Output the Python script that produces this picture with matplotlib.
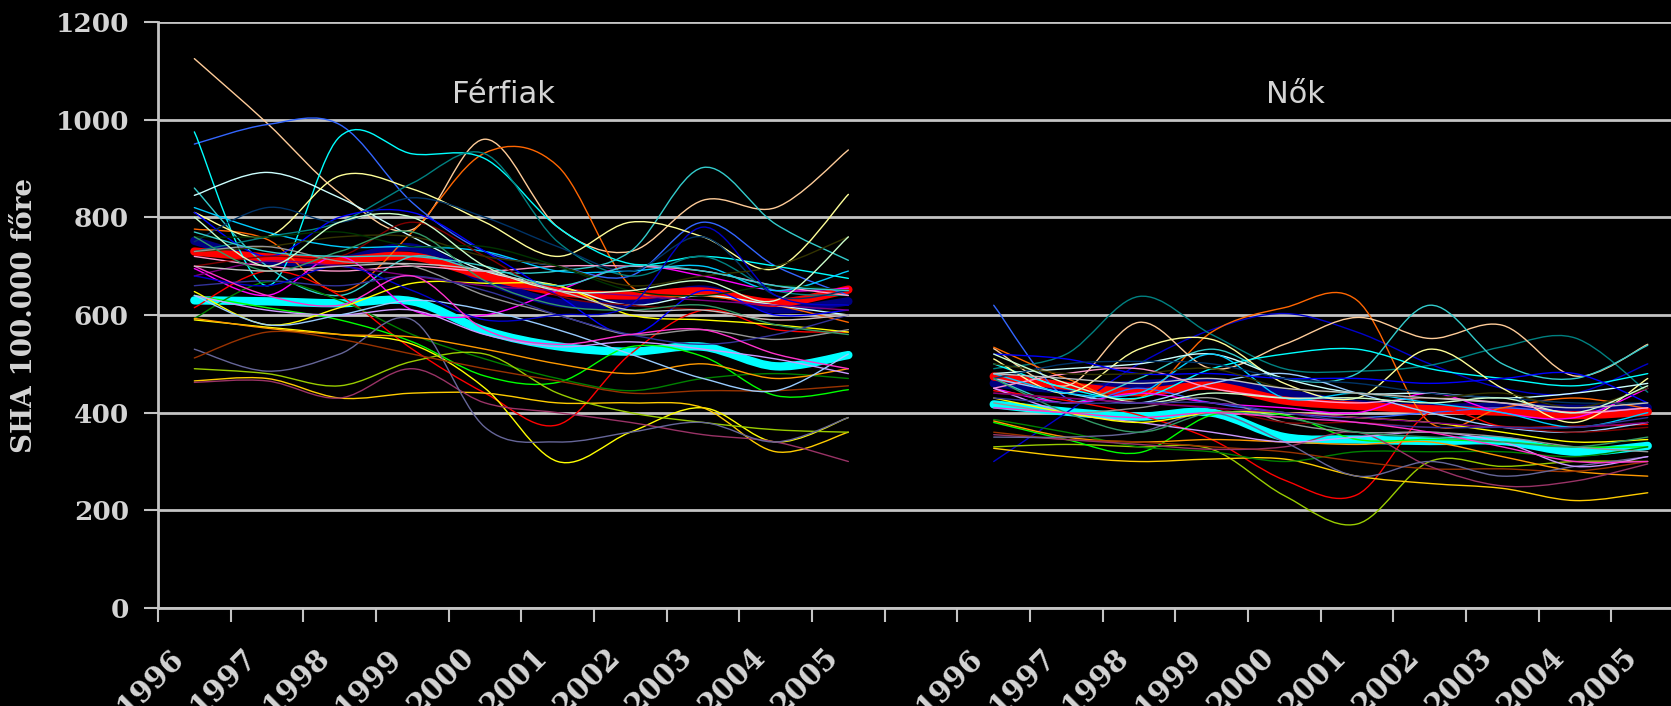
#! /usr/bin/env python
# coding: utf-8
"""Male / female rates per 100 000, 1996-2005, one thin line per county."""

import numpy as np
import matplotlib
matplotlib.use('Agg')
import matplotlib.pyplot as plt
from matplotlib.path import Path
from matplotlib.patches import PathPatch
from matplotlib.transforms import ScaledTranslation

years = ['1996', '1997', '1998', '1999', '2000',
         '2001', '2002', '2003', '2004', '2005']
panel_titles = ['Férfiak', 'Nők']
ylabel = 'SHA 100.000 főre'

# thick summary lines
men_navy = [752, 712, 712, 738, 672, 625, 625, 652, 612, 628]
men_red = [730, 718, 712, 720, 680, 648, 640, 648, 625, 652]
men_cyan = [630, 628, 624, 628, 568, 536, 525, 535, 495, 518]
women_navy = [460, 448, 458, 462, 440, 418, 410, 412, 408, 410]
women_red = [474, 455, 442, 455, 425, 414, 407, 402, 395, 402]
women_cyan = [417, 402, 392, 400, 350, 345, 342, 342, 320, 332]

# thin county lines
men_lines = [
    [1125, 993, 850, 775, 960, 780, 730, 835, 820, 938],
    [776, 755, 648, 770, 932, 905, 660, 640, 620, 585],
    [950, 990, 990, 830, 730, 700, 680, 790, 700, 640],
    [975, 660, 965, 930, 920, 780, 705, 720, 700, 675],
    [860, 700, 640, 720, 690, 690, 730, 902, 786, 712],
    [845, 892, 840, 760, 690, 660, 620, 640, 620, 600],
    [810, 760, 885, 858, 790, 720, 790, 760, 695, 847],
    [730, 760, 790, 870, 930, 750, 680, 720, 650, 640],
    [695, 640, 720, 610, 600, 650, 700, 680, 650, 655],
    [615, 690, 640, 530, 440, 375, 520, 610, 570, 565],
    [640, 615, 590, 545, 475, 462, 535, 515, 435, 447],
    [593, 668, 630, 560, 510, 470, 445, 470, 480, 470],
    [648, 580, 615, 665, 665, 660, 600, 590, 580, 565],
    [590, 575, 560, 540, 450, 300, 360, 410, 340, 390],
    [465, 470, 430, 440, 440, 420, 420, 410, 320, 360],
    [490, 480, 455, 505, 520, 440, 400, 380, 365, 360],
    [462, 465, 430, 490, 420, 400, 380, 355, 340, 300],
    [530, 485, 520, 590, 370, 340, 360, 380, 340, 390],
    [512, 565, 550, 520, 490, 465, 440, 445, 445, 455],
    [593, 573, 560, 555, 530, 500, 480, 500, 470, 490],
    [640, 610, 600, 610, 560, 535, 545, 530, 510, 480],
    [640, 580, 600, 630, 610, 570, 520, 470, 445, 520],
    [720, 700, 690, 700, 690, 700, 700, 690, 660, 640],
    [820, 770, 740, 740, 730, 690, 690, 700, 650, 690],
    [810, 720, 800, 810, 730, 640, 560, 650, 600, 610],
    [750, 820, 790, 840, 800, 740, 690, 760, 640, 650],
    [700, 720, 720, 790, 720, 640, 620, 610, 590, 600],
    [730, 740, 760, 760, 720, 700, 660, 680, 700, 760],
    [760, 760, 770, 740, 740, 700, 650, 640, 660, 650],
    [730, 740, 710, 700, 640, 600, 560, 570, 550, 570],
    [680, 710, 700, 680, 660, 650, 640, 630, 620, 610],
    [660, 670, 660, 680, 650, 600, 560, 540, 560, 600],
    [760, 690, 730, 770, 670, 620, 610, 620, 580, 560],
    [770, 730, 720, 720, 700, 660, 700, 690, 660, 650],
    [800, 700, 790, 800, 700, 650, 650, 670, 630, 760],
    [680, 660, 700, 650, 590, 600, 620, 780, 640, 620],
    [700, 640, 620, 680, 570, 540, 560, 570, 520, 490],
    [700, 690, 700, 705, 690, 650, 610, 610, 590, 600],
]
women_lines = [
    [620, 430, 450, 420, 400, 390, 400, 410, 400, 410],
    [300, 400, 500, 570, 603, 565, 500, 450, 440, 500],
    [490, 520, 638, 560, 490, 485, 497, 535, 553, 442],
    [534, 470, 430, 565, 615, 630, 380, 410, 430, 408],
    [531, 455, 585, 490, 540, 595, 552, 579, 475, 540],
    [470, 420, 470, 530, 470, 480, 620, 500, 470, 538],
    [500, 450, 430, 490, 520, 530, 490, 470, 455, 480],
    [510, 440, 530, 550, 460, 430, 530, 450, 380, 470],
    [450, 420, 440, 420, 410, 400, 440, 400, 390, 450],
    [445, 425, 395, 345, 262, 232, 400, 372, 372, 376],
    [330, 335, 330, 325, 230, 172, 300, 290, 300, 300],
    [327, 310, 300, 305, 305, 270, 255, 245, 220, 236],
    [380, 345, 318, 395, 395, 345, 345, 340, 330, 330],
    [386, 360, 330, 320, 300, 320, 320, 320, 310, 330],
    [383, 350, 340, 345, 340, 335, 340, 310, 280, 270],
    [360, 345, 340, 330, 320, 300, 285, 285, 280, 300],
    [355, 345, 335, 325, 330, 360, 290, 250, 260, 295],
    [350, 350, 360, 400, 340, 270, 300, 270, 290, 310],
    [450, 400, 380, 360, 340, 350, 360, 340, 290, 310],
    [470, 440, 420, 460, 480, 440, 400, 370, 360, 380],
    [450, 480, 490, 450, 430, 420, 430, 420, 400, 410],
    [480, 490, 500, 520, 470, 440, 440, 430, 440, 460],
    [480, 440, 440, 520, 430, 440, 420, 400, 370, 400],
    [520, 510, 480, 480, 470, 470, 460, 470, 480, 420],
    [470, 500, 505, 500, 470, 460, 440, 430, 420, 420],
    [500, 480, 480, 490, 450, 440, 430, 440, 410, 450],
    [420, 400, 410, 430, 380, 360, 360, 350, 330, 320],
    [440, 430, 420, 410, 380, 380, 370, 370, 360, 370],
    [430, 400, 380, 400, 400, 390, 380, 360, 340, 345],
    [520, 460, 420, 440, 430, 430, 420, 430, 400, 455],
    [470, 400, 360, 400, 390, 360, 350, 340, 330, 350],
    [440, 430, 420, 410, 400, 390, 380, 370, 370, 380],
    [430, 420, 420, 420, 400, 380, 370, 370, 370, 390],
    [410, 400, 390, 400, 390, 380, 360, 330, 300, 300],
    [480, 470, 460, 470, 450, 440, 430, 420, 410, 420],
]

men_colors = [
    '#FFCC99', '#FF6600', '#3366FF', '#00FFFF', '#33CCCC', '#CCFFFF',
    '#FFFF99', '#008080', '#FF00FF', '#FF0000', '#00FF00', '#008000',
    '#FFFF00', '#FFFF00', '#FFCC00', '#99CC00', '#993366', '#666699',
    '#993300', '#FF9900', '#CC99FF', '#99CCFF', '#FF99CC', '#00CCFF',
    '#0000FF', '#003366', '#800000', '#333300', '#003300', '#969696',
    '#800080', '#333399', '#339966', '#33CCCC', '#CCFFCC', '#0000CC',
    '#FF33CC', '#C0C0C0']
women_colors = [
    '#3366FF', '#0000CC', '#008080', '#FF6600', '#FFCC99', '#33CCCC',
    '#00FFFF', '#FFFF99', '#FF00FF', '#FF0000', '#99CC00', '#FFCC00',
    '#00FF00', '#008000', '#FF9900', '#993300', '#993366', '#666699',
    '#CC99FF', '#99CCFF', '#FF99CC', '#CCFFFF', '#00CCFF', '#0000FF',
    '#003366', '#333300', '#969696', '#800000', '#FFFF00', '#CCFFCC',
    '#339966', '#800080', '#333399', '#FF33CC', '#C0C0C0']

FG = '#d4d4d4'
GRID = '#c4c4c4'


def smooth_path(xs, ys):
    """Excel-like smoothed line through the points (Catmull-Rom Beziers)."""
    pts = np.column_stack([xs, ys]).astype(float)
    ext = np.vstack([pts[0], pts, pts[-1]])
    verts = [pts[0]]
    codes = [Path.MOVETO]
    for i in range(len(pts) - 1):
        p0, p1, p2, p3 = ext[i], ext[i + 1], ext[i + 2], ext[i + 3]
        verts += [p1 + (p2 - p0) / 6.0, p2 - (p3 - p1) / 6.0, p2]
        codes += [Path.CURVE4] * 3
    return Path(verts, codes)


def draw_line(ax, xs, ys, color, lw, z):
    patch = PathPatch(smooth_path(xs, ys), fill=False, edgecolor=color,
                      lw=lw, capstyle='round', joinstyle='round', zorder=z)
    ax.add_patch(patch)


fig = plt.figure(figsize=(16.71, 7.06), dpi=100, facecolor='black')
ax = fig.add_axes([158 / 1671, 98 / 706, 1 - 158 / 1671, 586 / 706])
ax.set_facecolor('black')

men_x = np.arange(10)
women_x = np.arange(11, 21)

for xs, navy, red, cyan, lines, colors in [
        (men_x, men_navy, men_red, men_cyan, men_lines, men_colors),
        (women_x, women_navy, women_red, women_cyan, women_lines, women_colors)]:
    draw_line(ax, xs, navy, '#000080', 6, 3)
    draw_line(ax, xs, red, '#FF0000', 6, 3.1)
    draw_line(ax, xs, cyan, '#00FFFF', 6, 3.2)
    for vals, col in zip(lines, colors):
        draw_line(ax, xs, vals, col, 1.0, 4)

ax.set_xlim(-0.5, 20.32)
ax.set_ylim(0, 1200)

# y axis
ax.set_yticks(np.arange(0, 1201, 200))
ax.yaxis.grid(True, color=GRID, lw=2)
ax.set_axisbelow(True)
ax.tick_params(axis='y', colors=GRID, length=10, width=1.5, pad=11,
               labelcolor=FG, labelsize=19)
for lab in ax.get_yticklabels():
    lab.set_family('DejaVu Serif')
    lab.set_weight('bold')
ax.set_ylabel(ylabel, color=FG, fontsize=20, family='DejaVu Serif',
              weight='bold', ha='center', va='center')
ax.yaxis.set_label_coords(-0.088, 0.5)

# x axis: ticks between categories, labels on categories
ax.set_xticks(np.arange(-0.5, 20.5, 1.0))
ax.set_xticklabels([])
ax.tick_params(axis='x', which='major', colors=GRID, length=10, width=1.5)
ax.set_xticks(np.concatenate([men_x, women_x]), minor=True)
ax.set_xticklabels(years + years, minor=True)
ax.tick_params(axis='x', which='minor', length=0, pad=25,
               labelcolor=FG, labelsize=21)
shift = ScaledTranslation(-5 / 100, 0, fig.dpi_scale_trans)
for lab in ax.get_xticklabels(minor=True):
    lab.set_family('DejaVu Serif')
    lab.set_weight('bold')
    lab.set_rotation(45)
    lab.set_ha('right')
    lab.set_va('top')
    lab.set_transform(lab.get_transform() + shift)

for side in ['top', 'right']:
    ax.spines[side].set_visible(False)
for side in ['left', 'bottom']:
    ax.spines[side].set_color(GRID)
    ax.spines[side].set_linewidth(2)

ax.text(4.25, 1052, panel_titles[0], color=FG, fontsize=22,
        ha='center', va='center')
ax.text(15.15, 1052, panel_titles[1], color=FG, fontsize=22,
        ha='center', va='center')

fig.savefig('out.png', dpi=100, facecolor='black')
